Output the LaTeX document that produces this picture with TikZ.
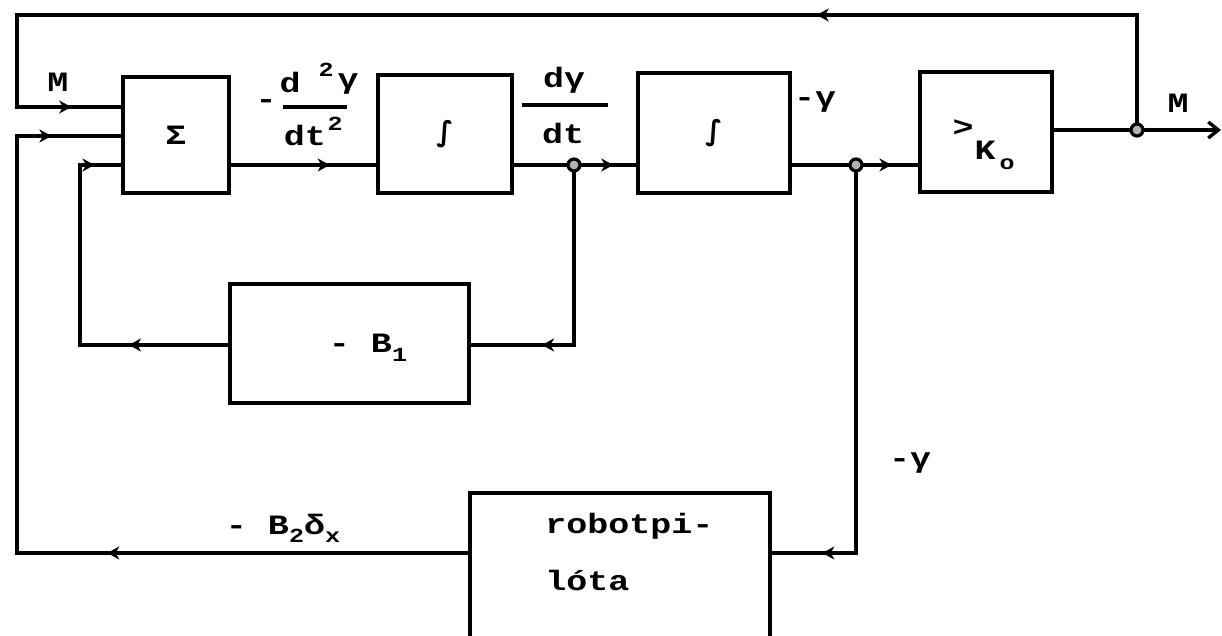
\documentclass[tikz,border=0pt]{standalone}
\usepackage{fontspec}
\setmainfont{Liberation Mono}[FakeStretch=1.25]
\newfontfamily\symf{DejaVu Sans}
\usetikzlibrary{arrows.meta,decorations.markings}
\newcommand{\lowsub}[1]{\raisebox{-0.55ex}{\fontsize{10}{10}\selectfont #1}}
\tikzset{
  wire/.style={line width=1.7pt, line join=miter, line cap=rect},
  blk/.style={draw, line width=1.7pt, rectangle, inner sep=0pt},
  lbl/.style={inner sep=0pt, font=\bfseries\fontsize{14}{17}\selectfont},
  sml/.style={inner sep=0pt, font=\bfseries\fontsize{10}{12}\selectfont},
  junc/.style={circle, draw, fill=gray!60, line width=1.6pt, minimum size=6pt, inner sep=0pt},
  arr/.style={postaction={decorate}, decoration={markings, mark=at position #1 with {\arrow{Stealth[length=6pt,width=6.5pt,inset=1.8pt]}}}},
}
\begin{document}
\begin{tikzpicture}[x=0.5pt,y=-0.5pt]
\path[use as bounding box] (0,0) rectangle (1222,636);
\clip (0,0) rectangle (1222,636);
\fill[white] (0,0) rectangle (1222,636);

% blocks
\node[blk, lbl, minimum width=53pt, minimum height=58pt] (sig) at (176,135) {Σ};
\node[blk, lbl, minimum width=67pt, minimum height=59pt] (int1) at (445,134) {\symf ∫};
\node[blk, lbl, minimum width=76pt, minimum height=60pt] (int2) at (714,133) {\symf ∫};
\node[blk, minimum width=66pt, minimum height=60pt] (K) at (986,132) {};
\node[blk, minimum width=119.5pt, minimum height=59.5pt] (B1) at (349.5,343.5) {};
\node[blk, minimum width=150pt, minimum height=80pt] (robot) at (620,573) {};

% texts
\node[lbl] (Kg) at (963,128) {>};
\node[lbl] (Kk) at (985,150) {K};
\node[sml] (Ko) at (1007,164) {o};
\node[lbl, anchor=base] (b1t) at (368,353) {- B\lowsub{1}};
\node[lbl, anchor=base west] (rob1) at (545,533) {robotpi-};
\node[lbl, anchor=base west] (rob2) at (545,590) {lóta};
\node[lbl] (Min) at (58,82) {M};
\node[lbl] (Mout) at (1178,103) {M};
\node[lbl] (g1) at (815,102) {-γ};
\node[lbl] (g2) at (910,463) {-γ};
\node[lbl, anchor=base] (b2t) at (283,534) {- B\lowsub{2}δ\lowsub{x}};
% d2gamma/dt2
\node[lbl] (mn) at (266,104) {-};
\node[lbl] (n1) at (290,82) {d};
\node[sml] (n2) at (326,70) {2};
\node[lbl] (n3) at (348,84) {γ};
\node[lbl] (dd1) at (305,135) {dt};
\node[sml] (dd2) at (335,124) {2};
\draw[line width=1.7pt] (283,107) -- (347,107);
% dgamma/dt
\node[lbl] (f2n) at (564,80) {dγ};
\node[lbl] (f2d) at (563,133) {dt};
\draw[line width=1.7pt] (522,105) -- (608,105);

% coordinates and junctions
\coordinate (c1) at (1137,15);
\coordinate (c2) at (17,15);
\coordinate (c3) at (17,107);
\coordinate (d1) at (17,553);
\coordinate (d2) at (17,136);
\coordinate (e1) at (574,345);
\coordinate (e2) at (80,345);
\coordinate (e3) at (80,165);
\coordinate (f1) at (856,553);
\coordinate (oend) at (1221,130);
\node[junc] (jA) at (574,165) {};
\node[junc] (jB) at (856,165) {};
\node[junc] (jM) at (1137,130) {};

% top feedback M
\draw[wire] (jM) -- (c1) -- (c2) -- (c3) -- (sig.west |- c3);
\draw[wire, arr=0.286] (c1) -- (c2);
\draw[wire, arr=0.52] (c3) -- (sig.west |- c3);
% robot pilot loop
\draw[wire] (robot.west |- d1) -- (d1) -- (d2) -- (sig.west |- d2);
\draw[wire, arr=0.80] (robot.west |- d1) -- (d1);
\draw[wire, arr=0.33] (d2) -- (sig.west |- d2);
% B1 loop
\draw[wire] (jA) -- (e1) -- (B1.east |- e1);
\draw[wire, arr=0.31] (e1) -- (B1.east |- e1);
\draw[wire, arr=0.67] (B1.west |- e2) -- (e2);
\draw[wire] (e2) -- (e3) -- (sig.west |- e3);
\draw[wire, arr=0.35] (e3) -- (sig.west |- e3);
% forward path
\draw[wire, arr=0.68] (sig.east |- e3) -- (int1.west |- e3);
\draw[wire] (int1.east |- jA) -- (jA);
\draw[wire, arr=0.58] (jA) -- (int2.west |- jA);
\draw[wire] (int2.east |- jB) -- (jB);
\draw[wire, arr=0.51] (jB) -- (K.west |- jB);
\draw[wire] (jB) -- (f1) -- (robot.east |- f1);
\draw[wire, arr=0.40] (f1) -- (robot.east |- f1);
\draw[wire] (K.east |- jM) -- (jM);
\draw[wire, -{Straight Barb[length=5pt,width=8pt]}] (jM) -- (oend);
\end{tikzpicture}
\end{document}
